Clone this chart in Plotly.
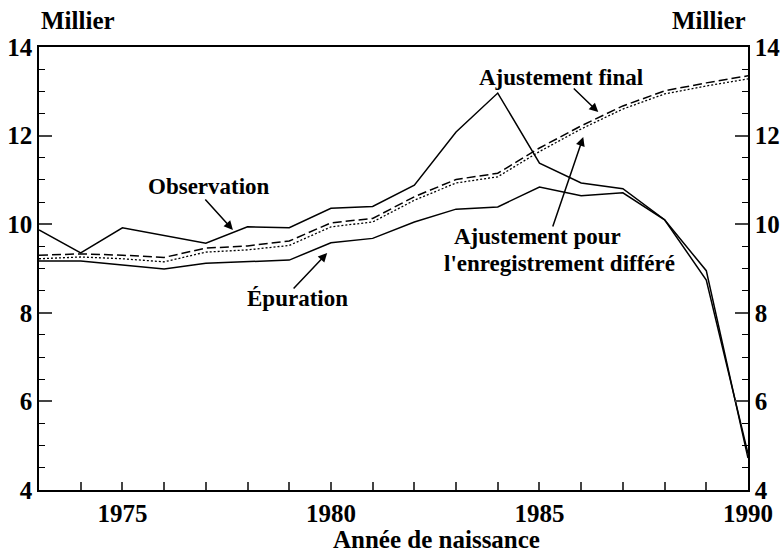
import plotly.graph_objects as go

# Données (milliers de naissances)
annees = list(range(1973, 1991))
observation = [9.87, 9.35, 9.92, 9.75, 9.57, 9.94, 9.92, 10.36, 10.40, 10.88,
               12.08, 12.96, 11.38, 10.93, 10.80, 10.10, 8.95, 4.72]
epuration = [9.17, 9.17, 9.08, 8.99, 9.12, 9.15, 9.19, 9.58, 9.68, 10.05,
             10.34, 10.39, 10.84, 10.64, 10.71, 10.10, 8.74, 4.82]
ajustement_final = [9.30, 9.33, 9.30, 9.25, 9.46, 9.51, 9.62, 10.03, 10.13, 10.62,
                    11.01, 11.15, 11.72, 12.22, 12.67, 13.01, 13.19, 13.35]
ajustement_differe = [9.22, 9.26, 9.22, 9.15, 9.37, 9.42, 9.52, 9.94, 10.05, 10.54,
                      10.93, 11.07, 11.64, 12.15, 12.60, 12.94, 13.12, 13.28]

etiquettes_x = {1975: '1975', 1980: '1980', 1985: '1985', 1990: '1990'}

FONT = 'Liberation Serif'

fig = go.Figure()
fig.add_trace(go.Scatter(x=annees, y=observation, mode='lines', name='Observation',
                         line=dict(color='black', width=1.5)))
fig.add_trace(go.Scatter(x=annees, y=epuration, mode='lines', name='Épuration',
                         line=dict(color='black', width=1.5)))
fig.add_trace(go.Scatter(x=annees, y=ajustement_final, mode='lines', name='Ajustement final',
                         line=dict(color='black', width=1.5, dash='9px,4px')))
fig.add_trace(go.Scatter(x=annees, y=ajustement_differe, mode='lines',
                         name="Ajustement pour l'enregistrement différé",
                         line=dict(color='black', width=1.3, dash='2px,2px')))
# trace invisible pour afficher l'axe de droite
fig.add_trace(go.Scatter(x=annees, y=observation, mode='lines', yaxis='y2',
                         line=dict(color='rgba(0,0,0,0)'), hoverinfo='skip', showlegend=False))

axe_y = dict(range=[4, 14], dtick=2, ticks='inside', ticklen=13, tickwidth=1.5,
             showline=True, linewidth=1.5, linecolor='black', showgrid=False, zeroline=False,
             automargin=False,
             minor=dict(dtick=0.5, ticks='inside', ticklen=6, tickwidth=1.2, tickcolor='black'),
             tickfont=dict(family=FONT, size=25, color='black', weight='bold'))

fig.update_layout(
    width=784, height=553,
    margin=dict(l=39, r=36, t=47, b=63),
    plot_bgcolor='white', paper_bgcolor='white',
    showlegend=False,
    font=dict(family=FONT, color='black'),
    xaxis=dict(range=[1973, 1990], tickvals=annees,
               ticktext=[etiquettes_x.get(a, '') for a in annees],
               ticks='inside', ticklen=8, tickwidth=1.5, showline=True, linewidth=1.5,
               linecolor='black', mirror=True, showgrid=False, zeroline=False,
               automargin=False,
               tickfont=dict(family=FONT, size=25, color='black', weight='bold')),
    yaxis=axe_y,
    yaxis2=dict(axe_y, overlaying='y', side='right', anchor='x'),
)

texte = dict(family=FONT, size=23, color='black', weight='bold')
fleche = dict(showarrow=True, arrowhead=2, arrowsize=1.2, arrowwidth=1.5, arrowcolor='black',
              xref='x', yref='y', text='')

# Titres des axes
fig.add_annotation(text='Millier', xref='paper', yref='paper', x=0, y=1, yshift=27,
                   xanchor='left', yanchor='middle', showarrow=False,
                   font=dict(family=FONT, size=25, color='black', weight='bold'))
fig.add_annotation(text='Millier', xref='paper', yref='paper', x=1, y=1, yshift=27,
                   xanchor='right', yanchor='middle', showarrow=False,
                   font=dict(family=FONT, size=25, color='black', weight='bold'))
fig.add_annotation(text='Année de naissance', xref='paper', yref='paper', x=0.56, y=0,
                   yshift=-49, xanchor='center', yanchor='middle', showarrow=False,
                   font=dict(family=FONT, size=25, color='black', weight='bold'))

# Étiquettes des séries
fig.add_annotation(text='Observation', x=1977.08, y=10.84, showarrow=False, font=texte)
fig.add_annotation(text='Épuration', x=1979.2, y=8.33, showarrow=False, font=texte)
fig.add_annotation(text='Ajustement final', x=1985.52, y=13.32, showarrow=False, font=texte)
fig.add_annotation(text='Ajustement pour', x=1982.9, y=9.73, xanchor='left',
                   showarrow=False, font=texte)
fig.add_annotation(text="l'enregistrement différé", x=1982.66, y=9.12, xanchor='left',
                   showarrow=False, font=texte)

# Flèches
fig.add_annotation(fleche, x=1977.65, y=9.87, ax=-29, ay=-32)
fig.add_annotation(fleche, x=1979.91, y=9.35, ax=-35, ay=37)
fig.add_annotation(fleche, x=1986.41, y=12.53, ax=-26, ay=-25)
fig.add_annotation(fleche, x=1986.05, y=11.97, ax=-31, ay=91)

# page sans marge pour que la figure occupe exactement la fenêtre
fig.write_html("out.html", config={'displayModeBar': False},
               post_script="document.body.style.margin='0';document.body.style.overflow='hidden';")
